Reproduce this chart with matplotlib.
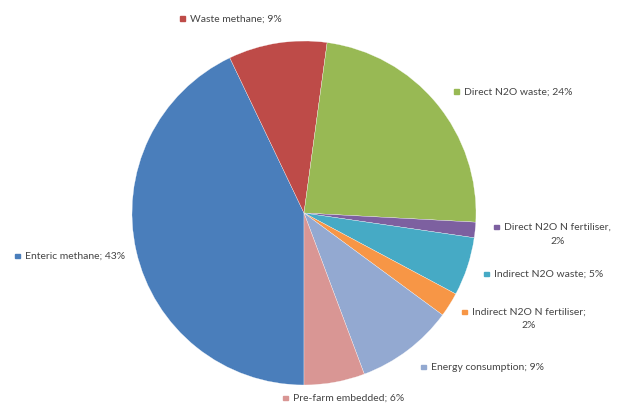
import matplotlib
matplotlib.use("Agg")
import matplotlib.pyplot as plt
from matplotlib.patches import Rectangle

# Slice order clockwise, starting at 6 o'clock
categories = ["Enteric methane", "Waste methane", "Direct N2O waste",
              "Direct N2O N fertiliser", "Indirect N2O waste",
              "Indirect N2O N fertiliser", "Energy consumption",
              "Pre-farm embedded"]
shares = [42.9, 9.25, 23.7, 1.45, 5.5, 2.3, 9.2, 5.7]
label_texts = ["Enteric methane; 43%", "Waste methane; 9%", "Direct N2O waste; 24%",
               "Direct N2O N fertiliser,\n2%", "Indirect N2O waste; 5%",
               "Indirect N2O N fertiliser;\n2%", "Energy consumption; 9%",
               "Pre-farm embedded; 6%"]
colors = ["#4A7EBB", "#BE4B48", "#98B954", "#7D60A0", "#46AAC5",
          "#F79646", "#93A9D1", "#D99694"]

# label anchor (marker centre) in pixels, from top-left
label_pos = [(17, 256), (182, 19), (456, 92), (496, 227), (486, 274),
             (464, 312), (423, 367), (285, 398)]

W, H = 618, 403
FS = 7.5
fig = plt.figure(figsize=(W / 100, H / 100), dpi=100)
cx, cy, r = 304, 213, 172
ax = fig.add_axes([(cx - r) / W, (H - cy - r) / H, 2 * r / W, 2 * r / H])
ax.pie(shares, colors=colors, startangle=270, counterclock=False,
       wedgeprops=dict(edgecolor="white", linewidth=0.2))
ax.set_xlim(-1, 1)
ax.set_ylim(-1, 1)
ax.set_aspect("equal")
ax.axis("off")

for txt, col, (px, py) in zip(label_texts, colors, label_pos):
    fx, fy = px / W, 1 - py / H
    fig.patches.append(Rectangle((fx - 2 / W, fy - 2 / H), 4.5 / W, 4.5 / H,
                                 transform=fig.transFigure, color=col))
    lines = txt.split("\n")
    fig.text(fx + 8 / W, fy, lines[0], fontsize=FS, family="Lato",
             color="#454545", va="center", ha="left")
    if len(lines) > 1:
        # second line centred under the first
        t = fig.text(fx + 8 / W, fy, lines[0], fontsize=FS, family="Lato", alpha=0)
        fig.canvas.draw()
        bb = t.get_window_extent()
        mid = (bb.x0 + bb.x1) / 2 / W
        fig.text(mid, fy - 14 / H, lines[1], fontsize=FS, family="Lato",
                 color="#454545", va="center", ha="center")

fig.savefig("out.png", dpi=100)
